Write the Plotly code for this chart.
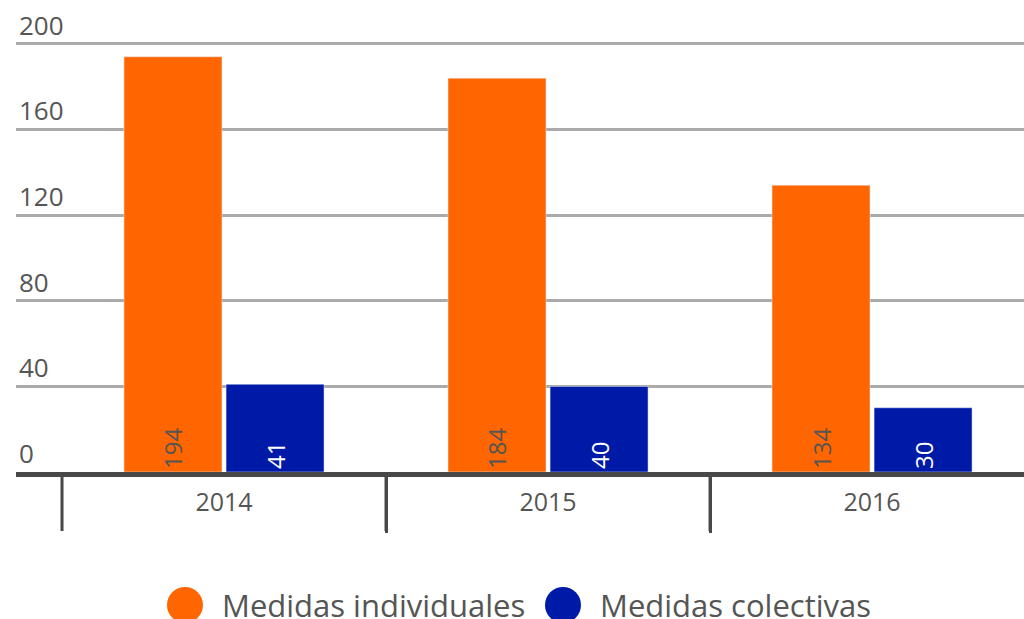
import plotly.graph_objects as go

years = ["2014", "2015", "2016"]
individuales = [194, 184, 134]
colectivas = [41, 40, 30]
series_names = ["Medidas individuales", "Medidas colectivas"]
y_ticks = [0, 40, 80, 120, 160, 200]

ORANGE = "#FF6600"
BLUE = "#001AA8"
GRAY = "#555555"
AXIS = "#484848"
FONT = "Open Sans"

W, H = 1024, 619
ML, MT, MB = 16, 0, 147
PW, PH = W - ML, H - MT - MB  # plot area in px

fig = go.Figure()
fig.add_trace(go.Bar(
    x=years, y=individuales, name=series_names[0], marker_color=ORANGE,
    text=[str(v) for v in individuales], textposition="inside",
    insidetextanchor="start", textangle=-90,
    textfont=dict(color=GRAY, size=24, family=FONT), showlegend=False,
))
fig.add_trace(go.Bar(
    x=years, y=colectivas, name=series_names[1], marker_color=BLUE,
    text=[str(v) for v in colectivas], textposition="inside",
    insidetextanchor="start", textangle=-90,
    textfont=dict(color="white", size=24, family=FONT), showlegend=False,
))

fig.update_layout(
    width=W, height=H,
    margin=dict(l=ML, r=0, t=MT, b=MB, pad=0, autoexpand=False),
    paper_bgcolor="white", plot_bgcolor="white",
    barmode="group", bargap=0.37, bargroupgap=0.04,
    font=dict(family=FONT, color=GRAY, size=25),
    uniformtext=dict(mode=False),
)
fig.update_xaxes(
    type="category", range=[-0.642, 2.469], automargin=False,
    showline=True, linewidth=5, linecolor=AXIS,
    ticks="outside", tickson="boundaries", ticklen=56, tickwidth=3,
    tickcolor=AXIS, ticklabelstandoff=4,
    tickfont=dict(size=25, color=GRAY, family=FONT),
    showgrid=False, zeroline=False,
)
fig.update_yaxes(
    range=[0, 220.5], tickvals=y_ticks, ticktext=[str(v) for v in y_ticks],
    automargin=False,
    showgrid=True, gridcolor="#AAAAAA", gridwidth=3,
    zeroline=False, showline=False,
    ticklabelposition="inside top",
    tickfont=dict(size=26, color=GRAY, family=FONT),
)

# category separators below the axis
for b in [-0.5, 0.5, 1.5]:
    fig.add_shape(type="line", xref="x", yref="paper", x0=b, x1=b,
                  y0=0, y1=(PH - 531) / PH, line=dict(color=AXIS, width=3))

# manual legend with large circle markers (positions in page px)
legend_items = [(185, series_names[0], ORANGE), (563, series_names[1], BLUE)]
cy = (PH - 605) / PH
for xc, label, col in legend_items:
    xp = (xc - ML) / PW
    fig.add_shape(type="circle", xref="paper", yref="paper",
                  xsizemode="pixel", ysizemode="pixel",
                  xanchor=xp, yanchor=cy, x0=-18, x1=18, y0=-18, y1=18,
                  fillcolor=col, line=dict(width=0))
    fig.add_annotation(xref="paper", yref="paper", x=(xc + 35 - ML) / PW, y=cy,
                       text=label, showarrow=False, xanchor="left", yanchor="middle",
                       font=dict(size=31, color=GRAY, family=FONT))

fig.write_html("out.html", config={"displayModeBar": False},
               post_script="document.body.style.margin='0';document.body.style.overflow='hidden';")
